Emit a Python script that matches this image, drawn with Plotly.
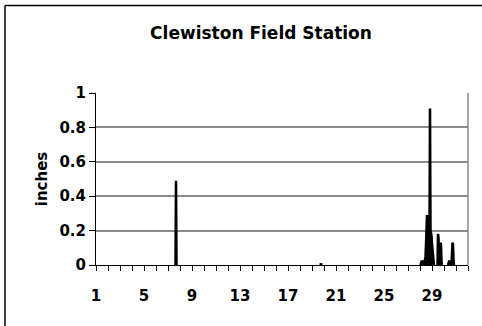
import numpy as np
import plotly.graph_objects as go

# ---- data (hourly rainfall, hour index counted from start of day 1) ----
days_in_month = 31
day_ticks = list(range(1, 33))
day_labels = ["1", "5", "9", "13", "17", "21", "25", "29"]

event_hours = [160, 450,
               650, 651, 652, 653, 654, 655, 656, 657, 658, 659,
               660, 661, 662, 663, 664, 665, 666, 667, 668, 669,
               670, 671, 672, 673, 674, 675,
               684, 685, 686, 687, 688, 689, 690, 691,
               705, 706, 707, 708,
               712, 713, 714, 715]
event_inches = [0.49, 0.01,
                0.02, 0.02, 0.02, 0.02, 0.02, 0.02, 0.02, 0.02, 0.03, 0.05,
                0.12, 0.28, 0.29, 0.27, 0.20, 0.15, 0.12, 0.18, 0.91, 0.20,
                0.19, 0.17, 0.12, 0.08, 0.04, 0.02,
                0.18, 0.16, 0.05, 0.02, 0.10, 0.13, 0.12, 0.02,
                0.02, 0.02, 0.02, 0.02,
                0.05, 0.13, 0.12, 0.03]

# ---- build hourly series ----
n_hours = days_in_month * 24
rain = np.zeros(n_hours)
rain[event_hours] = event_inches
x_days = 1 + np.arange(n_hours) / 24.0
y = [None] * n_hours
for i in range(n_hours):
    prev_v = rain[i - 1] if i > 0 else 0
    next_v = rain[i + 1] if i < n_hours - 1 else 0
    if rain[i] > 0 or prev_v > 0 or next_v > 0:
        y[i] = float(rain[i])

tick_text = [str(d) if str(d) in day_labels else "" for d in day_ticks]

FONT = "DejaVu Sans Bold, DejaVu Sans"
W, H = 482, 326
L, R, T, B = 96, 14, 93, 61
pw, ph = W - L - R, H - T - B

def px(xp):
    return (xp - L) / pw

def py(yp):
    return (H - B - yp) / ph

y_vals = [0, 0.2, 0.4, 0.6, 0.8, 1]
y_text = ["0", "0.2", "0.4", "0.6", "0.8", "1"]

fig = go.Figure()
fig.add_trace(go.Scatter(
    x=x_days, y=y, mode="lines",
    line=dict(color="black", width=2.5),
    fill="tozeroy", fillcolor="black",
    connectgaps=False, hoverinfo="skip", showlegend=False,
))

fig.update_layout(
    width=W, height=H,
    margin=dict(l=L, r=R, t=T, b=B, autoexpand=False),
    paper_bgcolor="white", plot_bgcolor="white",
    title=dict(text="<b>Clewiston Field Station</b>", x=261 / W, xanchor="center",
               xref="container", y=1 - 33 / H, yanchor="middle", yref="container",
               font=dict(family="DejaVu Sans", size=17, color="black")),
    xaxis=dict(
        range=[1, 32], tickmode="array", tickvals=day_ticks, ticktext=tick_text,
        ticks="outside", ticklen=5, tickcolor="black", tickwidth=1,
        showline=True, linecolor="black", linewidth=1,
        showgrid=False, zeroline=False, automargin=False,
        tickfont=dict(family=FONT, size=15, color="black", weight=700),
        ticklabelstandoff=12,
    ),
    yaxis=dict(
        range=[0, 1], tickmode="array", tickvals=y_vals, ticktext=y_text,
        ticks="outside", ticklen=6, tickcolor="black", tickwidth=1,
        showline=True, linecolor="black", linewidth=1,
        showgrid=True, gridcolor="#8a8a8a", gridwidth=1.5, zeroline=False,
        automargin=False,
        tickfont=dict(family=FONT, size=15, color="black", weight=700),
        title=dict(text="<b>inches</b>", font=dict(family="DejaVu Sans", size=15, color="black"),
                   standoff=8),
    ),
    shapes=[
        dict(type="line", xref="paper", yref="paper", x0=1, x1=1, y0=0, y1=1,
             line=dict(color="#8a8a8a", width=1.5)),
        dict(type="line", xref="paper", yref="paper",
             x0=px(5), x1=px(490), y0=py(5.5), y1=py(5.5),
             line=dict(color="black", width=1.5), layer="above"),
        dict(type="line", xref="paper", yref="paper",
             x0=px(5), x1=px(5), y0=py(5.5), y1=py(335),
             line=dict(color="black", width=1.5), layer="above"),
    ],
)

fig.write_html("out.html")
